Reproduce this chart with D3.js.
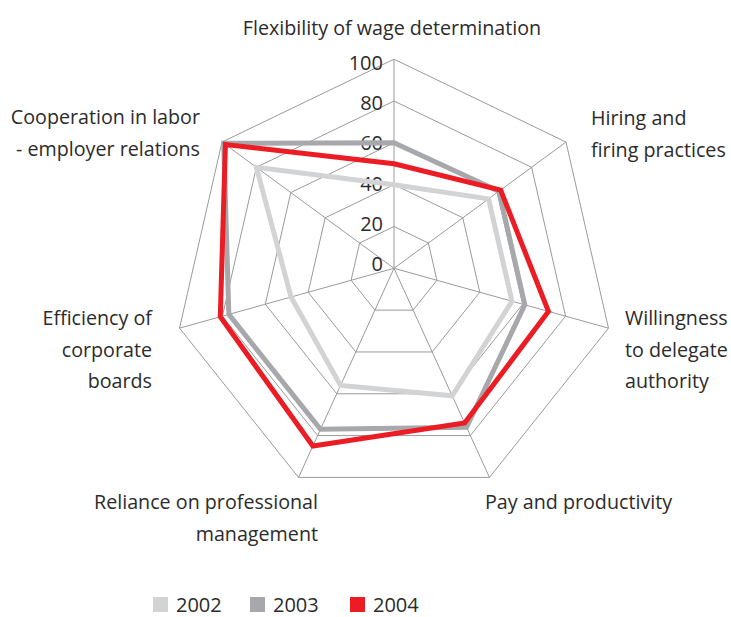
<!DOCTYPE html>
<html>
<head>
<meta charset="utf-8">
<script src="https://cdn.jsdelivr.net/npm/d3@7"></script>
<style>
  html, body { margin: 0; padding: 0; background: #fff; }
  svg { display: block; }
  text { font-family: "Open Sans", "Noto Sans", sans-serif; fill: #2b2b2b; }
</style>
</head>
<body>
<svg id="chart" width="731" height="617"></svg>
<script>
// Axes, clockwise from the top
const categories = [
  "Flexibility of wage determination",
  "Hiring and firing practices",
  "Willingness to delegate authority",
  "Pay and productivity",
  "Reliance on professional management",
  "Efficiency of corporate boards",
  "Cooperation in labor - employer relations"
];
// Label lines for each axis
const categoryLines = [
  ["Flexibility of wage determination"],
  ["Hiring and", "firing practices"],
  ["Willingness", "to delegate", "authority"],
  ["Pay and productivity"],
  ["Reliance on professional", "management"],
  ["Efficiency of", "corporate", "boards"],
  ["Cooperation in labor", "- employer relations"]
];
const years = ["2002", "2003", "2004"];
const values2002 = [40, 55, 55, 61, 56, 48, 80];
const values2003 = [60, 61, 61, 76, 77, 77, 99];
const values2004 = [50, 62, 72, 74, 85, 81, 98];
const tickValues = [0, 20, 40, 60, 80, 100];
const ringValues = [20, 40, 60, 80, 100];

const series = [
  { year: years[0], values: values2002, color: "#d2d3d5" },
  { year: years[1], values: values2003, color: "#a7a8ab" },
  { year: years[2], values: values2004, color: "#ec1c24" }
];

// Layout: spokes fan out from the hub to the corners of the rim heptagon
const hub = { x: 394, y: 268.3 };
const rimCenter = { x: 394, y: 279.2 };
const rimRadius = 220;
const n = categories.length;

const angle = d3.scaleLinear().domain([0, n]).range([0, 2 * Math.PI]);
const rim = d3.range(n).map(i => ({
  x: rimCenter.x + rimRadius * Math.sin(angle(i)),
  y: rimCenter.y - rimRadius * Math.cos(angle(i))
}));
// One x/y scale pair per axis: value 0 at the hub, 100 at the rim corner
const axisX = rim.map(v => d3.scaleLinear().domain([0, 100]).range([hub.x, v.x]));
const axisY = rim.map(v => d3.scaleLinear().domain([0, 100]).range([hub.y, v.y]));
const pt = (i, v) => [axisX[i](v), axisY[i](v)];

const svg = d3.select("#chart");

// Rings
const ring = d3.line().curve(d3.curveLinearClosed);
svg.append("g").selectAll("path").data(ringValues).join("path")
  .attr("d", v => ring(d3.range(n).map(i => pt(i, v))))
  .attr("fill", "none").attr("stroke", "#9a9a9a").attr("stroke-width", 1);

// Spokes
svg.append("g").selectAll("line").data(d3.range(n)).join("line")
  .attr("x1", i => axisX[i](0)).attr("y1", i => axisY[i](0))
  .attr("x2", i => axisX[i](100)).attr("y2", i => axisY[i](100))
  .attr("stroke", "#9a9a9a").attr("stroke-width", 1);

// Value labels along the top spoke
const tickLabelY = d3.scaleLinear().domain([0, 100]).range([264, 63]);
svg.append("g").selectAll("text").data(tickValues).join("text")
  .attr("x", 383).attr("y", v => tickLabelY(v))
  .attr("dy", "0.35em").attr("text-anchor", "end")
  .style("font-size", "20px")
  .text(v => v);

// Series outlines
svg.append("g").selectAll("path").data(series).join("path")
  .attr("d", s => ring(s.values.map((v, i) => pt(i, v))))
  .attr("fill", "none").attr("stroke", s => s.color)
  .attr("stroke-width", 5).attr("stroke-linejoin", "miter");

// Category labels
const labelPos = [
  { x: 392, y: 28, anchor: "middle" },
  { x: 591, y: 118, anchor: "start" },
  { x: 625, y: 318, anchor: "start" },
  { x: 485, y: 502, anchor: "start" },
  { x: 318, y: 502, anchor: "end" },
  { x: 152, y: 318, anchor: "end" },
  { x: 200, y: 117, anchor: "end" }
];
const lineGap = 31.7;
const labels = svg.append("g").selectAll("text").data(d3.range(n)).join("text")
  .attr("text-anchor", i => labelPos[i].anchor)
  .style("font-size", "19.7px");
labels.selectAll("tspan").data(i => categoryLines[i].map((t, k) => ({ t, k, i }))).join("tspan")
  .attr("x", d => labelPos[d.i].x)
  .attr("y", d => labelPos[d.i].y + d.k * lineGap)
  .attr("dy", "0.35em")
  .text(d => d.t);

// Legend
const legendX = [153, 250, 350];
const legend = svg.append("g").selectAll("g").data(series).join("g")
  .attr("transform", (s, k) => `translate(${legendX[k]},597)`);
legend.append("rect").attr("width", 15).attr("height", 15).attr("fill", s => s.color);
legend.append("text").attr("x", 23).attr("y", 7.5).attr("dy", "0.35em")
  .style("font-size", "20px").text(s => s.year);
</script>
</body>
</html>
